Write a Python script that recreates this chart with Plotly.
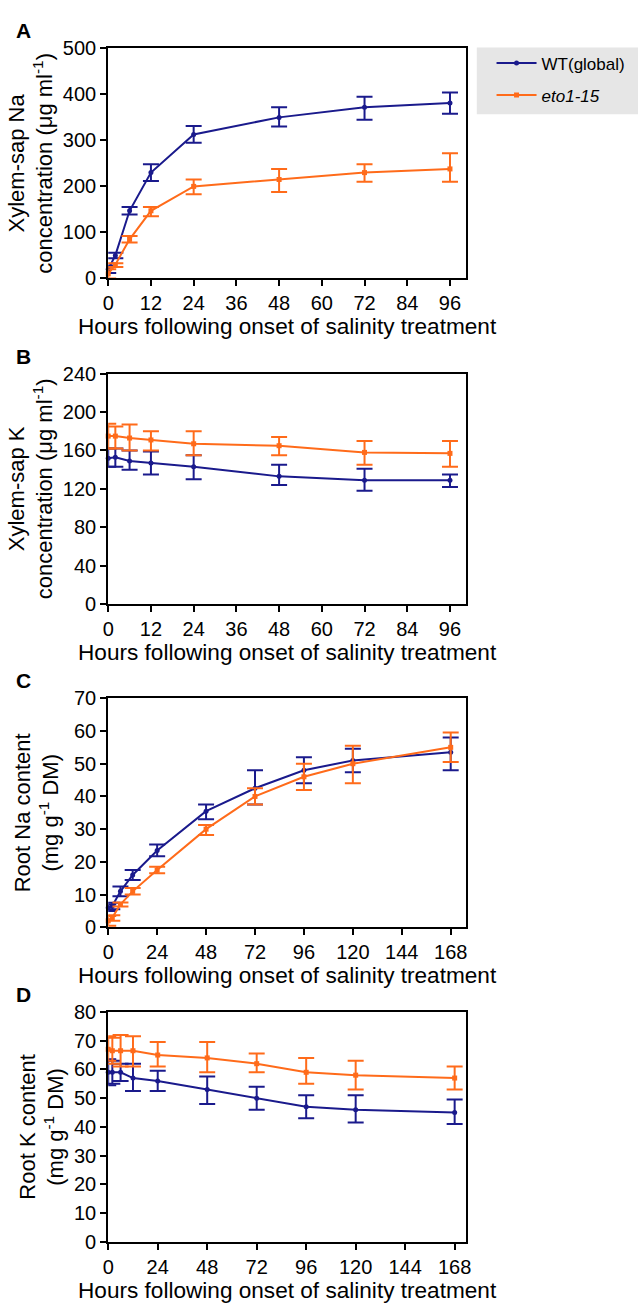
import plotly.graph_objects as go

# ---------------- data ----------------
hours_ab = [0, 2, 6, 12, 24, 48, 72, 96]
hours_cd = [0, 2, 6, 12, 24, 48, 72, 96, 120, 168]

# Panel A: Xylem-sap Na
a_wt = [20, 50, 147, 230, 313, 350, 372, 381]
a_wt_up = [8, 6, 8, 18, 18, 22, 23, 23]
a_wt_dn = [8, 6, 8, 18, 18, 20, 27, 23]
a_eto = [10, 30, 85, 147, 200, 215, 230, 238]
a_eto_up = [10, 3, 7, 8, 15, 23, 18, 34]
a_eto_dn = [10, 5, 7, 12, 17, 27, 20, 28]

# Panel B: Xylem-sap K
b_wt = [152, 153, 149, 147, 143, 133, 129, 129]
b_wt_up = [10, 9, 11, 12, 12, 12, 12, 6]
b_wt_dn = [9, 10, 9, 12, 13, 9, 11, 7]
b_eto = [175, 175, 173, 171, 167, 165, 158, 157]
b_eto_up = [13, 10, 14, 9, 13, 9, 12, 13]
b_eto_dn = [13, 13, 13, 11, 12, 10, 13, 14]

# Panel C: Root Na content
c_wt = [6, 6.5, 11, 16, 23.5, 35.5, 42.5, 48, 51, 53.5]
c_wt_up = [1, 1, 1.5, 1.5, 1.8, 2, 5.5, 4, 3.6, 4.5]
c_wt_dn = [1, 1, 1.5, 1.5, 1.8, 2.5, 5, 4, 3.6, 5.5]
c_eto = [2, 3, 7, 11, 17.5, 30, 40, 46, 50, 55]
c_eto_up = [1.5, 0.7, 0.6, 1, 1, 1.3, 2.5, 4, 5.5, 4.5]
c_eto_dn = [1.5, 1, 0.6, 1, 1, 1.8, 2.5, 4, 6, 4.5]

# Panel D: Root K content
d_wt = [59, 59, 59, 57, 56, 53, 50, 47, 46, 45]
d_wt_up = [4.5, 4, 3, 5, 3.5, 4.5, 4, 4, 5, 4.5]
d_wt_dn = [4.5, 4, 3, 4.5, 3.5, 5, 4, 4, 4.5, 4]
d_eto = [67, 66.5, 66.5, 66.5, 65, 64, 62, 59, 58, 57]
d_eto_up = [4.5, 4.5, 5.5, 5, 4.5, 5.5, 3.5, 5, 5, 4]
d_eto_dn = [4, 4.5, 5.5, 5.5, 4, 5, 3, 4, 5, 4]

series_names = ["WT(global)", "<i>eto1-15</i>"]
blue = "#1a1a8c"
orange = "#ff6b1a"

x_ticks_ab = [0, 12, 24, 36, 48, 60, 72, 84, 96]
x_ticks_cd = [0, 24, 48, 72, 96, 120, 144, 168]

panels = [
    dict(letter="A", x=hours_ab, wt=(a_wt, a_wt_up, a_wt_dn), eto=(a_eto, a_eto_up, a_eto_dn),
         yr=[0, 500], ydt=100, xr=[0, 100.5], xt=x_ticks_ab, so=4,
         ytitle="Xylem-sap Na<br>concentration (μg ml<sup>-1</sup>)", top=38, bot=272),
    dict(letter="B", x=hours_ab, wt=(b_wt, b_wt_up, b_wt_dn), eto=(b_eto, b_eto_up, b_eto_dn),
         yr=[0, 240], ydt=40, xr=[0, 100.5], xt=x_ticks_ab, so=4,
         ytitle="Xylem-sap K<br>concentration (μg ml<sup>-1</sup>)", top=369, bot=603),
    dict(letter="C", x=hours_cd, wt=(c_wt, c_wt_up, c_wt_dn), eto=(c_eto, c_eto_up, c_eto_dn),
         yr=[0, 70], ydt=10, xr=[0, 175.5], xt=x_ticks_cd, so=9,
         ytitle="Root Na content<br>(mg g<sup>-1</sup> DM)", top=699, bot=932),
    dict(letter="D", x=hours_cd, wt=(d_wt, d_wt_up, d_wt_dn), eto=(d_eto, d_eto_up, d_eto_dn),
         yr=[0, 80], ydt=10, xr=[0, 173.5], xt=x_ticks_cd, so=4,
         ytitle="Root K content<br>(mg g<sup>-1</sup> DM)", top=1018, bot=1252),
]

W, H = 643, 1310
FONT = "Liberation Sans, Arial, sans-serif"


def px(v):
    return v / W


def py(v):
    return 1 - v / H


fig = go.Figure()
annotations = []
shapes = []

for i, p in enumerate(panels):
    n = i + 1
    xa = "x" if n == 1 else f"x{n}"
    ya = "y" if n == 1 else f"y{n}"
    for j, (key, col) in enumerate([("wt", blue), ("eto", orange)]):
        vals, up, dn = p[key]
        fig.add_trace(go.Scatter(
            x=p["x"], y=vals, mode="lines+markers", name=series_names[j],
            legendgroup=key,
            line=dict(color=col, width=2),
            marker=dict(color=col, size=5, symbol="circle" if j == 0 else "square"),
            error_y=dict(type="data", symmetric=False, array=up, arrayminus=dn,
                         color=col, thickness=2, width=8),
            xaxis=xa, yaxis=ya, showlegend=(n == 1), cliponaxis=False,
        ))
    axis_common = dict(showline=True, linecolor="black", linewidth=2, mirror=True,
                       ticks="outside", ticklen=6, tickwidth=2, tickcolor="black",
                       showgrid=False, zeroline=False,
                       tickfont=dict(family=FONT, size=20, color="black"))
    fig.layout[f"xaxis{'' if n == 1 else n}"] = dict(
        axis_common, domain=[px(104), px(468)], range=p["xr"], tickvals=p["xt"],
        anchor=ya,
        title=dict(text="Hours following onset of salinity treatment",
                   font=dict(family=FONT, size=22.6, color="black"), standoff=0))
    fig.layout[f"yaxis{'' if n == 1 else n}"] = dict(
        axis_common, domain=[py(p["bot"]), py(p["top"])], range=p["yr"],
        dtick=p["ydt"], anchor=xa,
        title=dict(text=p["ytitle"], font=dict(family=FONT, size=22, color="black"),
                   standoff=p["so"]))
    annotations.append(dict(
        text=f"<b>{p['letter']}</b>", x=px(8), y=py(p["top"] - 18),
        xref="paper", yref="paper", xanchor="left", yanchor="middle", showarrow=False,
        font=dict(family=FONT, size=21, color="black")))

shapes.append(dict(type="rect", xref="paper", yref="paper",
                   x0=px(479), x1=1.0, y0=py(105), y1=py(37),
                   fillcolor="#e6e6e6", line=dict(width=0), layer="below"))

fig.update_layout(
    width=W, height=H, margin=dict(l=0, r=0, t=0, b=0),
    paper_bgcolor="white", plot_bgcolor="white",
    annotations=annotations, shapes=shapes,
    legend=dict(x=px(494), y=py(35), xanchor="left", yanchor="top",
                bgcolor="rgba(0,0,0,0)", font=dict(family=FONT, size=17, color="black"),
                itemwidth=40, tracegroupgap=7),
)

fig.write_html(
    "out.html",
    config={"displayModeBar": False},
    post_script=("document.documentElement.style.margin='0';"
                 "document.documentElement.style.overflow='hidden';"
                 "document.body.style.margin='0';document.body.style.padding='0';"
                 "document.body.style.overflow='hidden';"),
)
